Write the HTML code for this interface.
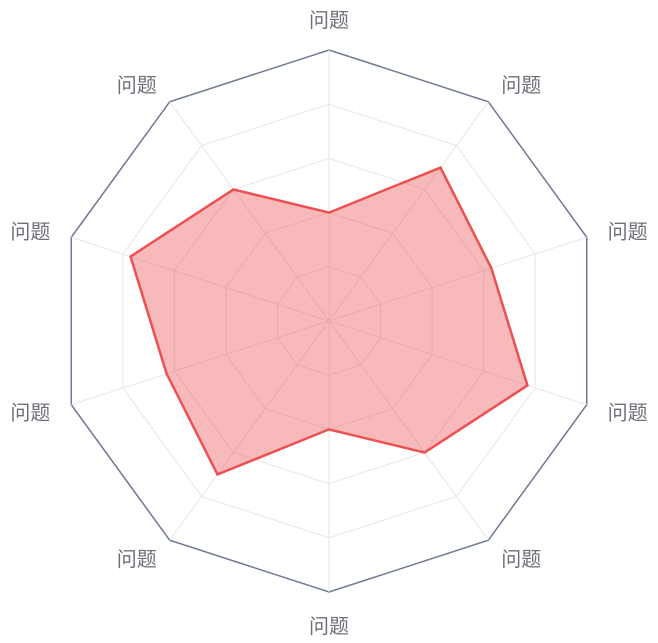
<!DOCTYPE html>
<html><head><meta charset="utf-8"><style>
html,body{margin:0;padding:0;background:#fff;}
svg{display:block;}
text{font-family:"Liberation Sans","Noto Sans CJK SC",sans-serif;font-size:20px;fill:#6e7079;}
</style></head><body>
<svg id="chart" width="658" height="643" viewBox="0 0 658 643"></svg>
<script>
const categories=["问题","问题","问题","问题","问题","问题","问题","问题","问题","问题"];
const seriesValues=[2,3.5,3.15,3.85,3,2,3.5,3.15,3.85,3];
const maxValue=5;
const ringCount=5;
const NS="http://www.w3.org/2000/svg";
const svg=document.getElementById('chart');
const cx=329,cy=321,R=271,n=categories.length;
function ang(i){return i*2*Math.PI/n;}
function pt(i,r){return [cx+r*Math.sin(ang(i)),cy-r*Math.cos(ang(i))];}
function rOf(v){return v/maxValue*R;}
function mk(tag,attrs){const e=document.createElementNS(NS,tag);for(const k in attrs)e.setAttribute(k,attrs[k]);svg.appendChild(e);return e;}
for(let k=1;k<=ringCount;k++){
  const r=R*k/ringCount;
  const pts=categories.map((c,i)=>pt(i,r).join(',')).join(' ');
  const e=mk('polygon',{points:pts,fill:'none',stroke:k===ringCount?'#6e7a94':'#e6e6e6','stroke-width':k===ringCount?1.5:1});
  
  
}
categories.forEach((c,i)=>{
  const p=pt(i,R);
  const e=mk('line',{x1:cx,y1:cy,x2:p[0],y2:p[1],stroke:'#e6e6e6','stroke-width':1});
  
  
});
const dpts=seriesValues.map((v,i)=>pt(i,rOf(v)).join(',')).join(' ');
const area=mk('polygon',{points:dpts,fill:'rgba(238,80,82,0.4)',stroke:'#ee5052','stroke-width':2.5,'stroke-linejoin':'miter'});


categories.forEach((c,i)=>{
  const p=pt(i,R+22);
  const s=Math.sin(ang(i)),co=Math.cos(ang(i));
  let anchor='middle';
  if(s>0.1)anchor='start';else if(s<-0.1)anchor='end';
  let y=p[1]+8;
  if(co>0.99)y=p[1]-1;
  else if(co<-0.99)y=p[1]+19;
  const t=mk('text',{x:p[0],y:y,'text-anchor':anchor});
  t.textContent=c;
  
  
});
</script>
</body></html>
